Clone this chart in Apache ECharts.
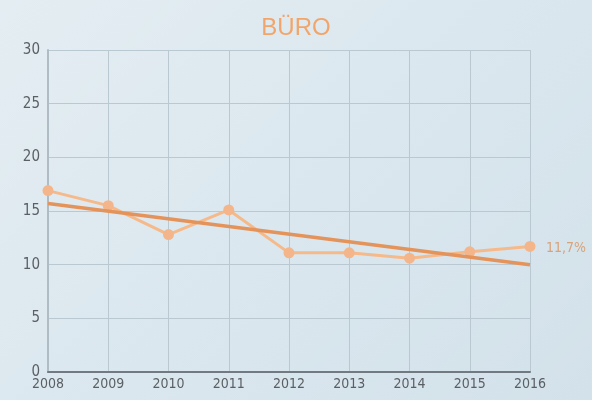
<!DOCTYPE html>
<html>
<head>
<meta charset="utf-8">
<script src="https://cdn.jsdelivr.net/npm/echarts@6/dist/echarts.min.js"></script>
<style>
html,body{margin:0;padding:0;}
#c{width:592px;height:400px;background:linear-gradient(135deg,#e4edf2 0%,#d9e6ee 60%,#d3e1ea 100%);}
</style>
</head>
<body>
<div id="c"></div>
<script>
var years = ['2008','2009','2010','2011','2012','2013','2014','2015','2016'];
var values = [16.9, 15.5, 12.8, 15.1, 11.1, 11.1, 10.6, 11.2, 11.7];
var trend = [15.7, null, null, null, null, null, null, null, 10.0];
var yTicks = [0, 5, 10, 15, 20, 25, 30];
var title = 'BÜRO';
var endLabel = '11,7%';

var fam = "'DejaVu Sans Condensed', 'Liberation Sans', sans-serif";
var chart = echarts.init(document.getElementById('c'));
chart.setOption({
  backgroundColor: 'transparent',
  title: {
    text: title, left: 'center', top: 11,
    textStyle: {color: '#f2a56a', fontSize: 24, fontWeight: 'normal', fontFamily: 'Liberation Sans'}
  },
  grid: {left: 48, right: 62, top: 50, bottom: 28, containLabel: false},
  xAxis: {
    type: 'category', data: years, boundaryGap: false,
    axisLine: {lineStyle: {color: '#707a80', width: 2}},
    axisTick: {show: false},
    axisLabel: {color: '#5a5f63', fontSize: 14, fontFamily: fam, margin: 5},
    splitLine: {show: true, lineStyle: {color: '#b9c8d1', width: 1}}
  },
  yAxis: {
    type: 'value', min: yTicks[0], max: yTicks[yTicks.length - 1], interval: 5,
    axisLine: {show: true, lineStyle: {color: '#b0bcc3', width: 2}},
    axisTick: {show: false},
    axisLabel: {color: '#5a5f63', fontSize: 15, fontFamily: fam, margin: 8},
    splitLine: {show: true, lineStyle: {color: '#b9c8d1', width: 1}}
  },
  series: [
    {
      type: 'line', data: values, symbol: 'circle', symbolSize: 11,
      lineStyle: {color: '#f6b98a', width: 3},
      itemStyle: {color: '#f5b58a'},
      label: {show: false},
      endLabel: {show: true, formatter: endLabel, color: '#d9a37a', fontSize: 14, fontFamily: fam, offset: [8, 2]},
      z: 2
    },
    {
      type: 'line', data: trend, connectNulls: true, symbol: 'none',
      lineStyle: {color: '#e4935a', width: 3.5},
      z: 3
    }
  ]
});
</script>
</body>
</html>
